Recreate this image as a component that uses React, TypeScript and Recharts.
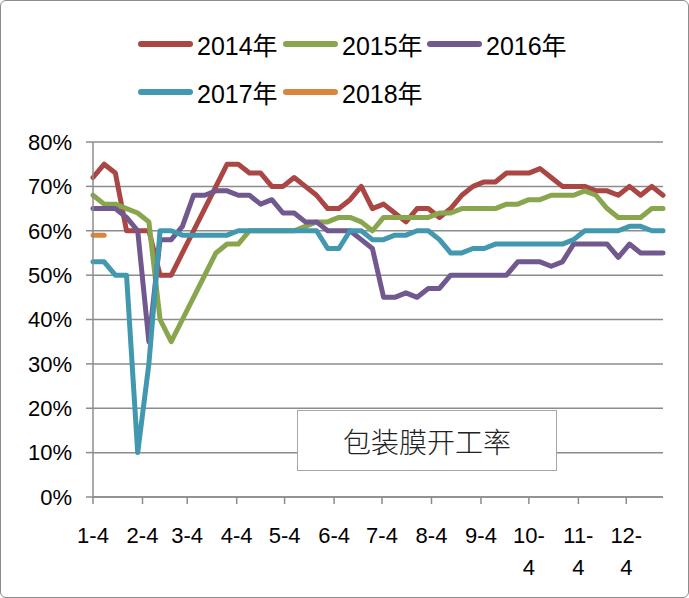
import React from 'react';
import { LineChart, Line, XAxis, YAxis, CartesianGrid } from 'recharts';

// weekly sample dates (month-day)
const weeks = [
  '1-4', '1-11', '1-18', '1-25', '2-1', '2-8', '2-15', '2-22', '3-1', '3-8',
  '3-15', '3-22', '3-29', '4-5', '4-12', '4-19', '4-26', '5-3', '5-10', '5-17',
  '5-24', '5-31', '6-7', '6-14', '6-21', '6-28', '7-5', '7-12', '7-19', '7-26',
  '8-2', '8-9', '8-16', '8-23', '8-30', '9-6', '9-13', '9-20', '9-27', '10-4',
  '10-11', '10-18', '10-25', '11-1', '11-8', '11-15', '11-22', '11-29', '12-6', '12-13',
  '12-20', '12-27',
];
const monthTicks = ['1-4', '2-4', '3-4', '4-4', '5-4', '6-4', '7-4', '8-4', '9-4', '10-4', '11-4', '12-4'];
const pctTicks = [0, 10, 20, 30, 40, 50, 60, 70, 80];

const s2014 = [
  72, 75, 73, 60, 60, 60, 50, 50, 55, 60, 65, 70, 75, 75, 73, 73, 70, 70, 72, 70,
  68, 65, 65, 67, 70, 65, 66, 64, 62, 65, 65, 63, 65, 68, 70, 71, 71, 73, 73, 73,
  74, 72, 70, 70, 70, 69, 69, 68, 70, 68, 70, 68,
];
const s2015 = [
  68, 66, 66, 65, 64, 62, 40, 35, 40, 45, 50, 55, 57, 57, 60, 60, 60, 60, 60, 61,
  62, 62, 63, 63, 62, 60, 63, 63, 63, 63, 63, 64, 64, 65, 65, 65, 65, 66, 66, 67,
  67, 68, 68, 68, 69, 68, 65, 63, 63, 63, 65, 65,
];
const s2016 = [
  65, 65, 65, 63, 60, 35, 58, 58, 61, 68, 68, 69, 69, 68, 68, 66, 67, 64, 64, 62,
  62, 60, 60, 60, 58, 56, 45, 45, 46, 45, 47, 47, 50, 50, 50, 50, 50, 50, 53, 53,
  53, 52, 53, 57, 57, 57, 57, 54, 57, 55, 55, 55,
];
const s2017 = [
  53, 53, 50, 50, 10, 30, 60, 60, 59, 59, 59, 59, 59, 60, 60, 60, 60, 60, 60, 60,
  60, 56, 56, 60, 60, 58, 58, 59, 59, 60, 60, 58, 55, 55, 56, 56, 57, 57, 57, 57,
  57, 57, 57, 58, 60, 60, 60, 60, 61, 61, 60, 60,
];
const s2018 = [59, 59];

const series = [
  { key: 'y2014', name: '2014年', color: '#AA4643' },
  { key: 'y2015', name: '2015年', color: '#89A54E' },
  { key: 'y2016', name: '2016年', color: '#71588F' },
  { key: 'y2017', name: '2017年', color: '#4198AF' },
  { key: 'y2018', name: '2018年', color: '#DB843D' },
];

const monthStart = [0, 31, 59, 90, 120, 151, 181, 212, 243, 273, 304, 334];
const toDay = (md: string) => {
  const [m, d] = md.split('-').map(Number);
  return monthStart[m - 1] + d - 4;
};

const data = weeks.map((w, i) => ({
  day: toDay(w),
  y2014: s2014[i] ?? null,
  y2015: s2015[i] ?? null,
  y2016: s2016[i] ?? null,
  y2017: s2017[i] ?? null,
  y2018: s2018[i] ?? null,
}));

const tickLabel: Record<number, string> = {};
monthTicks.forEach((t) => (tickLabel[toDay(t)] = t));

const FONT = '"Liberation Sans", "Noto Sans CJK SC", sans-serif';
const GRID = '#8c8c8c';

function MonthTick(props: any) {
  const { x, y, payload } = props;
  const label = tickLabel[payload.value] ?? '';
  const parts = label.length > 3 ? [label.slice(0, -1), label.slice(-1)] : [label];
  return (
    <text x={x} y={y} textAnchor="middle" fill="#000" fontSize={22} fontFamily={FONT}>
      {parts.map((p, k) => (
        <tspan key={k} x={x} dy={k === 0 ? 37 : 32}>
          {p}
        </tspan>
      ))}
    </text>
  );
}

// legend placement (two rows, like the original)
const legendPos = [
  { left: 138, top: 44 },
  { left: 283, top: 44 },
  { left: 427, top: 44 },
  { left: 138, top: 92 },
  { left: 283, top: 92 },
];

export default function App() {
  return (
    <div
      style={{
        position: 'absolute',
        left: 0,
        top: 0,
        width: 689,
        height: 598,
        background: '#fff',
        fontFamily: FONT,
      }}
    >
      <LineChart width={689} height={598} data={data} margin={{ top: 142, right: 26, left: 23, bottom: 41 }}>
        <CartesianGrid vertical={false} stroke={GRID} strokeWidth={1.5} />
        <XAxis
          dataKey="day"
          type="number"
          domain={[0, 357]}
          ticks={monthTicks.map(toDay)}
          interval={0}
          height={60}
          tickSize={7}
          tick={<MonthTick />}
          axisLine={{ stroke: GRID, strokeWidth: 1.5 }}
          tickLine={{ stroke: GRID, strokeWidth: 1.5 }}
        />
        <YAxis
          type="number"
          domain={[0, 80]}
          ticks={pctTicks}
          interval={0}
          width={70}
          tickSize={7}
          tickMargin={14}
          tickFormatter={(v: number) => `${v}%`}
          tick={{ fill: '#000', fontSize: 22, fontFamily: FONT }}
          axisLine={{ stroke: GRID, strokeWidth: 1.5 }}
          tickLine={{ stroke: GRID, strokeWidth: 1.5 }}
        />
        {series.map((s) => (
          <Line
            key={s.key}
            dataKey={s.key}
            name={s.name}
            type="linear"
            stroke={s.color}
            strokeWidth={5}
            strokeLinejoin="round"
            strokeLinecap="round"
            dot={false}
            activeDot={false}
            connectNulls={false}
            isAnimationActive={false}
          />
        ))}
      </LineChart>

      {series.map((s, i) => (
        <div
          key={s.key}
          style={{
            position: 'absolute',
            left: legendPos[i].left,
            top: legendPos[i].top - 15,
            height: 30,
            display: 'flex',
            alignItems: 'center',
            whiteSpace: 'nowrap',
          }}
        >
          <span style={{ display: 'inline-block', width: 55, height: 6, borderRadius: 3, background: s.color }} />
          <span style={{ marginLeft: 4, fontSize: 25, color: '#000' }}>{s.name}</span>
        </div>
      ))}

      <div
        style={{
          position: 'absolute',
          left: 297,
          top: 410,
          width: 260,
          height: 61,
          boxSizing: 'border-box',
          border: '1.5px solid #a6a6a6',
          background: '#fff',
          display: 'flex',
          alignItems: 'center',
          justifyContent: 'center',
          fontSize: 28,
          fontWeight: 300,
          fontFamily: '"Noto Sans CJK SC", sans-serif',
          color: '#222',
        }}
      >
        包装膜开工率
      </div>

      <div
        style={{
          position: 'absolute',
          left: 0,
          top: 0,
          width: 689,
          height: 598,
          boxSizing: 'border-box',
          border: '1px solid #8c8c8c',
          borderRadius: 6,
          pointerEvents: 'none',
        }}
      />
    </div>
  );
}
